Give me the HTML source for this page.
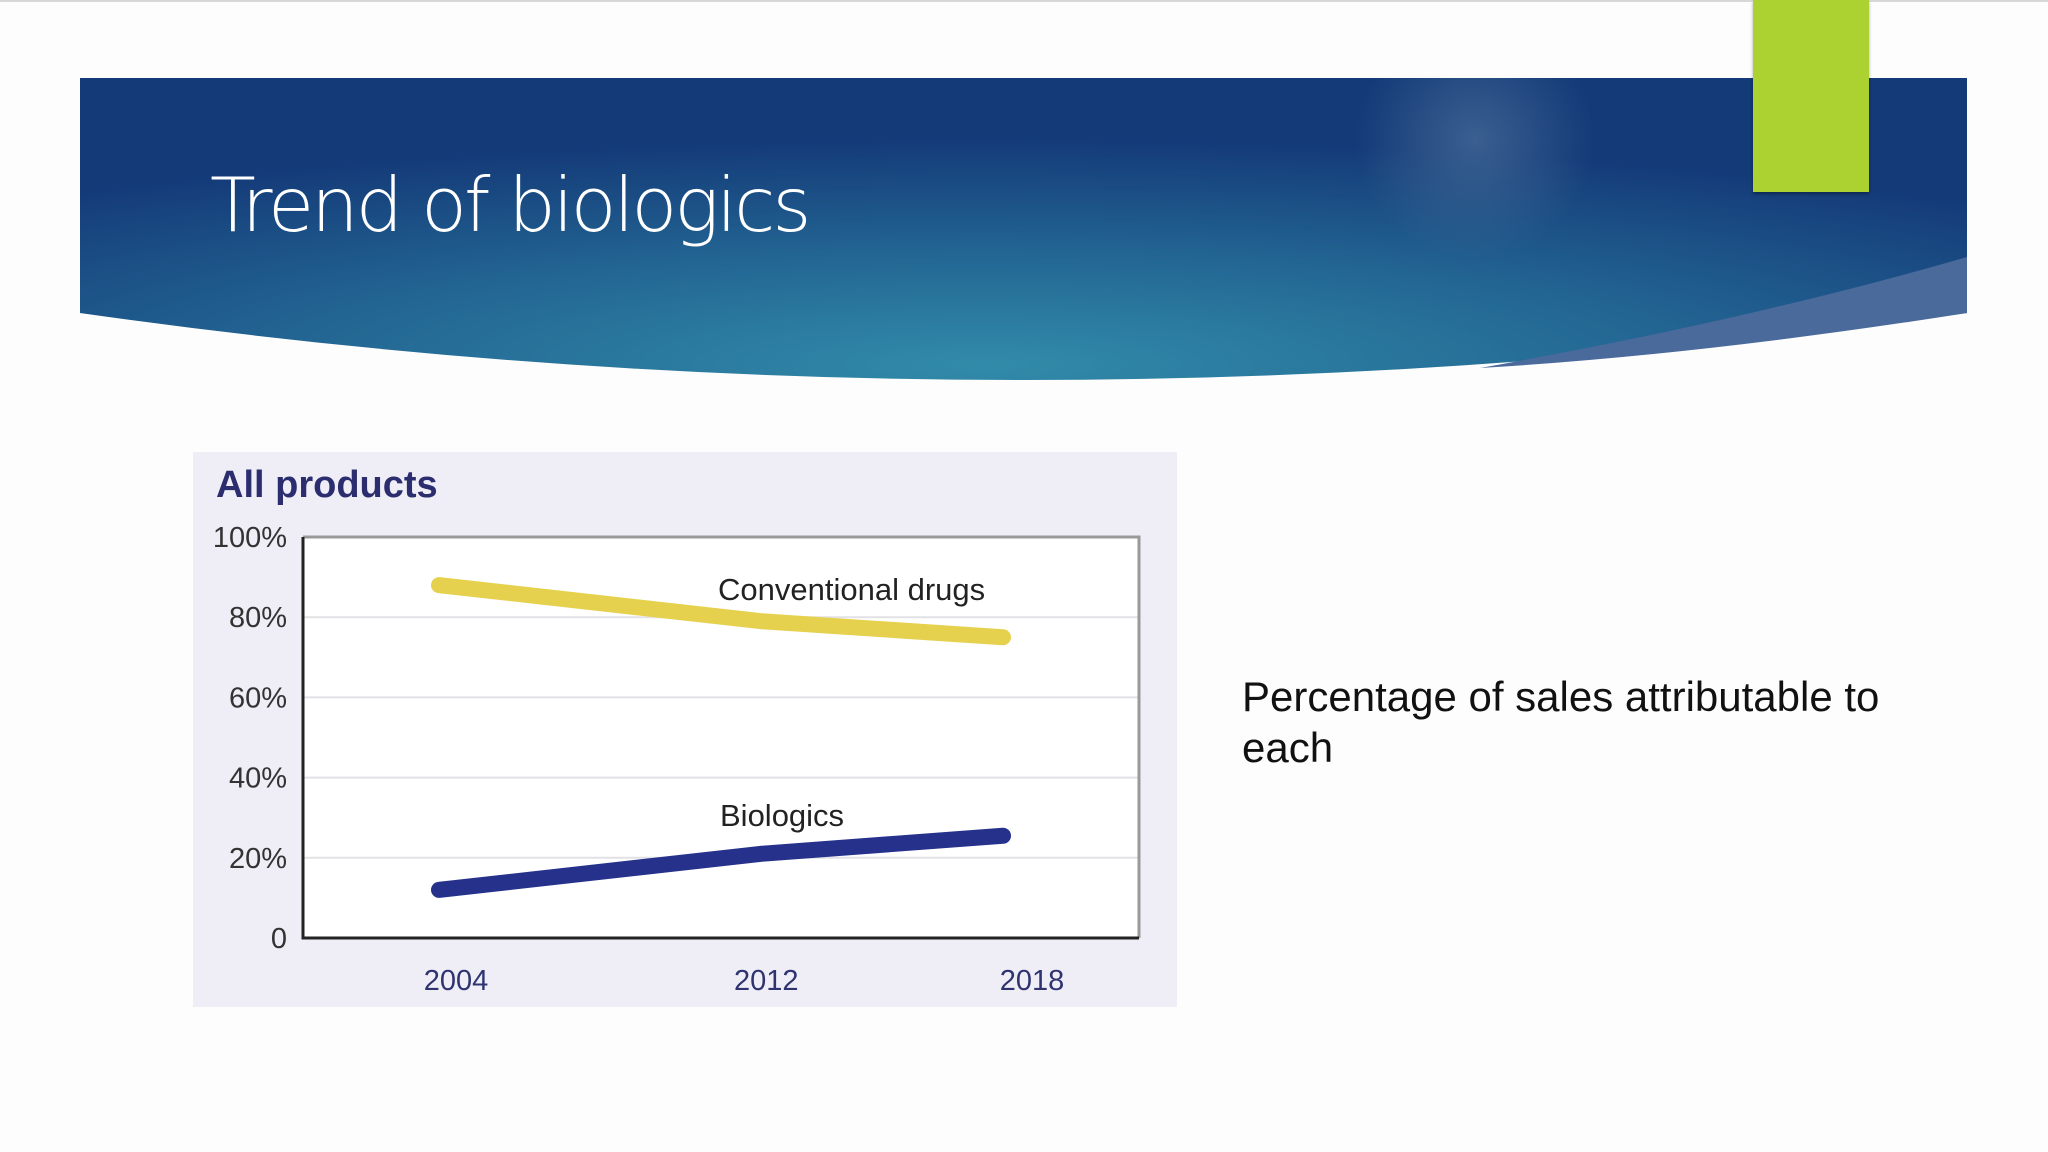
<!DOCTYPE html>
<html><head><meta charset="utf-8"><style>
html,body{margin:0;padding:0;width:2048px;height:1152px;overflow:hidden;background:#fdfdfd;font-family:"Liberation Sans",sans-serif}
.abs{position:absolute}
</style></head><body>
<div class="abs" style="left:0;top:0;width:2048px;height:2px;background:#d8d8d8"></div>
<svg class="abs" style="left:0;top:0" width="2048" height="400">
<defs>
<radialGradient id="bg" cx="0.48" cy="0.95" r="0.75">
<stop offset="0" stop-color="#318ba9"/><stop offset="0.45" stop-color="#246995"/><stop offset="1" stop-color="#143a78"/></radialGradient>
<radialGradient id="glow" cx="1475" cy="140" r="120" gradientUnits="userSpaceOnUse"><stop offset="0" stop-color="#4a6f9a" stop-opacity="0.7"/><stop offset="1" stop-color="#4a6f9a" stop-opacity="0"/></radialGradient>
</defs>
<path d="M80 78 H1967 V313 Q1023 447 80 313 Z" fill="url(#bg)"/>
<path d="M80 78 H1967 V313 Q1023 447 80 313 Z" fill="url(#glow)"/>
<path d="M1967 257 V313 Q1700 355 1480 368 Q1750 320 1967 257 Z" fill="#4a6a9c"/>
</svg>
<div class="abs" style="left:1753px;top:0;width:116px;height:192px;background:#acd232;box-shadow:0 2px 3px rgba(0,0,0,.35)"></div>
<div class="abs" style="left:210px;top:168px;font-size:75px;line-height:1;color:#fff;font-family:'DejaVu Sans','Liberation Sans',sans-serif;font-weight:300;letter-spacing:-3px">Trend of biologics</div>
<div class="abs" style="left:193px;top:452px;width:984px;height:555px;background:#efeef7"></div>
<div class="abs" style="left:216px;top:464px;font-size:38px;font-weight:bold;color:#2b2d6e">All products</div>
<svg class="abs" style="left:0;top:0" width="2048" height="1152" id="chart"></svg>
<div class="abs" style="left:1242px;top:671px;font-size:42px;line-height:51px;color:#111;width:720px">Percentage of sales attributable to each</div>
<script>
const years=[2004,2012,2018];
const conventional=[88,79,75];
const biologics=[12,21,25.5];
const yTicks=[0,20,40,60,80,100];
const yTickLabels=["0","20%","40%","60%","80%","100%"];
const xLabels=["2004","2012","2018"];
const svg=document.getElementById('chart');
const NS='http://www.w3.org/2000/svg';
const L=303,R=1139,T=537,B=938;
const x=y=>439+(y-2004)*(1003-439)/14;
const yv=v=>B-(B-T)*v/100;
function mk(t,a){const e=document.createElementNS(NS,t);for(const k in a)e.setAttribute(k,a[k]);svg.appendChild(e);return e;}
const bg=mk('rect',{x:L,y:T,width:R-L,height:B-T,fill:'#fff'});


yTicks.forEach((t,i)=>{
 if(t>0&&t<100){const g=mk('line',{x1:L,x2:R,y1:yv(t),y2:yv(t),stroke:'#e2e2e6','stroke-width':2});
 
 }
 const tx=mk('text',{x:287,y:yv(t)+10,'text-anchor':'end','font-size':29,fill:'#333','font-family':'Liberation Sans, sans-serif'});
 tx.textContent=yTickLabels[i];
 
 
});
const fr=mk('path',{d:`M${L} ${T} H${R} V${B}`,fill:'none',stroke:'#999','stroke-width':3});


const ax=mk('path',{d:`M${L} ${T} V${B} H${R}`,fill:'none',stroke:'#222','stroke-width':3});


years.forEach((yr,i)=>{
 const t=mk('text',{x:x(yr)+ (i==0?17:i==1?5:29),y:990,'text-anchor':'middle','font-size':29,fill:'#2f3470','font-family':'Liberation Sans, sans-serif'});
 t.textContent=xLabels[i];
 
 
});
function series(vals,col,name){
 const d=vals.map((v,i)=>(i?'L':'M')+x(years[i])+' '+yv(v)).join(' ');
 const p=mk('path',{d,fill:'none',stroke:col,'stroke-width':16,'stroke-linecap':'round','stroke-linejoin':'round'});
 
 
}
series(conventional,'#e6d14e','conventional-drugs-line');
series(biologics,'#26318c','biologics-line');
const l1=mk('text',{x:718,y:600,'font-size':31,fill:'#222','font-family':'Liberation Sans, sans-serif'});
l1.textContent='Conventional drugs';


const l2=mk('text',{x:720,y:826,'font-size':31,fill:'#222','font-family':'Liberation Sans, sans-serif'});
l2.textContent='Biologics';


</script>
</body></html>
